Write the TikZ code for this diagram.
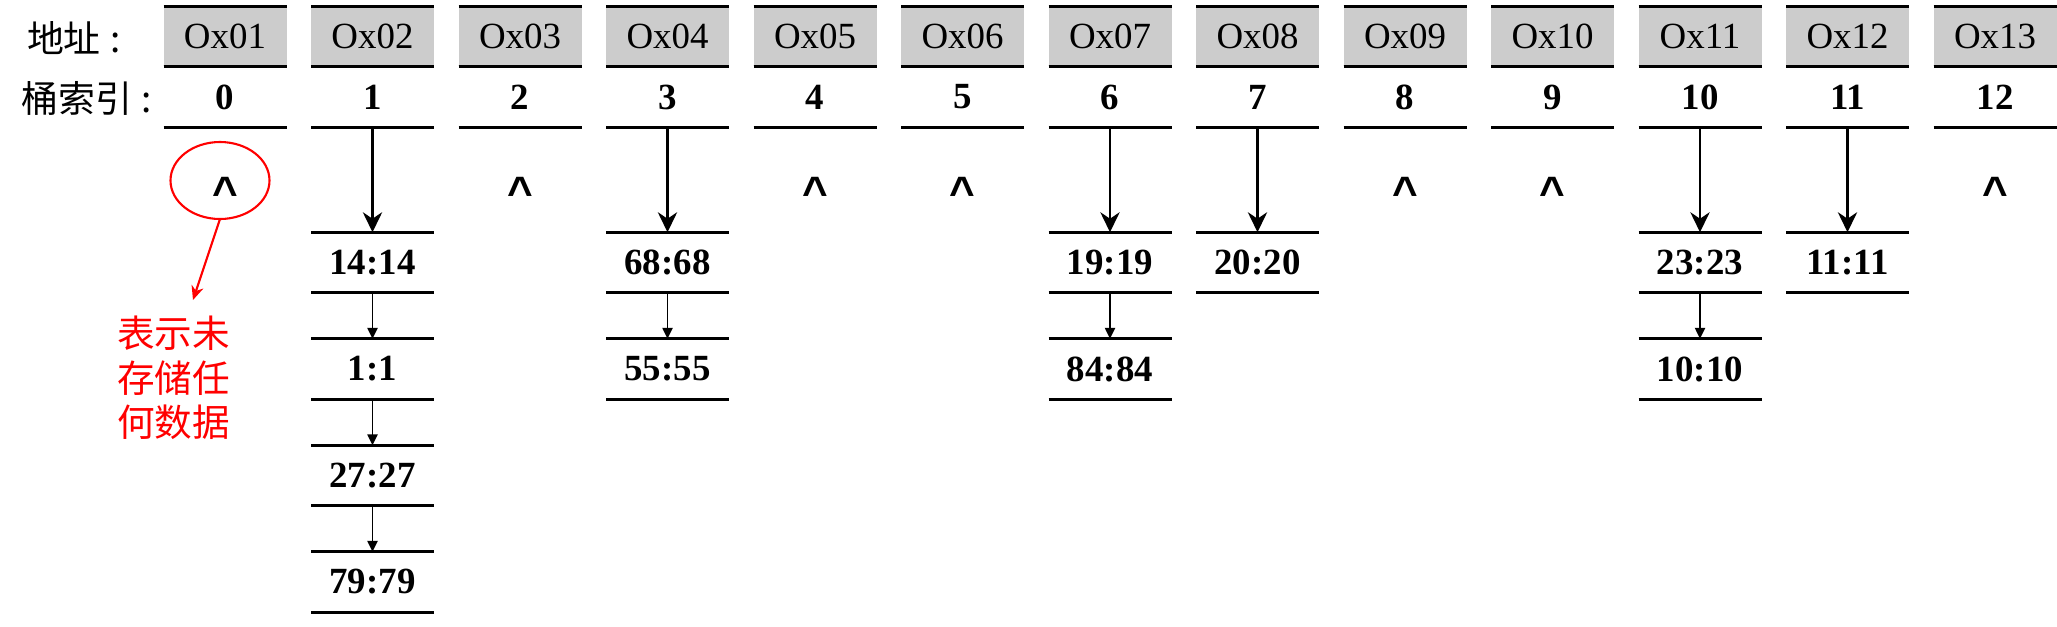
\documentclass[tikz,border=0pt]{standalone}
\usepackage{fontspec}
\setmainfont{Liberation Serif}
\newfontfamily\cjk{Noto Sans CJK SC}
\newfontfamily\capsans{Liberation Sans}
\usetikzlibrary{shapes.geometric,arrows.meta,positioning}
\definecolor{cellgrey}{RGB}{204,204,204}
\definecolor{notered}{RGB}{255,0,0}

\begin{document}
\begin{tikzpicture}[node distance=4.6mm and 0mm,
  every node/.style={inner sep=0pt,outer sep=0pt},
  rule/.style={line width=0.75pt,-},
  rec/.style={minimum width=12.3mm,minimum height=6.05mm,
    font=\fontsize{10.5}{12}\selectfont\bfseries,
    append after command={(\tikzlastnode.north west) edge[rule] (\tikzlastnode.north east)
      (\tikzlastnode.south west) edge[rule] (\tikzlastnode.south east)}},
  addr/.style={rec,fill=cellgrey,font=\fontsize{10.5}{12}\selectfont},
  nil/.style={font=\capsans\fontsize{12.5}{14}\selectfont\bfseries,anchor=base},
  lbl/.style={font=\cjk\fontsize{10.5}{12}\selectfont,anchor=west},
  ar/.style={-{Stealth[length=5.7pt,width=5.5pt]},line width=0.65pt},
  nx/.style={-{Triangle[length=3.1pt,width=2.9pt]},line width=0.45pt},
  redar/.style={-{Stealth[length=4pt,width=3.5pt]},draw=notered,line width=0.6pt}]
\useasboundingbox (0,0) rectangle (20.57,-6.26);
% header rows
\node[lbl] (hdaddr) at (0.27,-0.38) {地址\hspace{0.25em}:};
\node[lbl] (hdidx) at (0.22,-0.98) {桶索引\hspace{0.25em}:};
\foreach \i/\ad in {0/01,1/02,2/03,3/04,4/05,5/06,6/07,7/08,8/09,9/10,10/11,11/12,12/13} {
  \node[addr] (a\i) at (2.25+1.475*\i,-0.365) {Ox\ad};
  \node[rec,below=0mm of a\i] (b\i) {\i};
}
% empty buckets
\foreach \i in {0,2,4,5,8,9,12}
  \node[nil] (n\i) at (2.25+1.475*\i,-2.07) {\textasciicircum};
% chains
\node[rec,below=10.5mm of b1] (c1) {14:14};
\node[rec,below=of c1] (c1b) {1:1};
\node[rec,below=of c1b] (c1c) {27:27};
\node[rec,below=of c1c] (c1d) {79:79};
\node[rec,below=10.5mm of b3] (c3) {68:68};
\node[rec,below=of c3] (c3b) {55:55};
\node[rec,below=10.5mm of b6] (c6) {19:19};
\node[rec,below=of c6] (c6b) {84:84};
\node[rec,below=10.5mm of b7] (c7) {20:20};
\node[rec,below=10.5mm of b10] (c10) {23:23};
\node[rec,below=of c10] (c10b) {10:10};
\node[rec,below=10.5mm of b11] (c11) {11:11};
\draw[ar] (b1)--(c1); \draw[nx] (c1)--(c1b); \draw[nx] (c1b)--(c1c); \draw[nx] (c1c)--(c1d);
\draw[ar] (b3)--(c3); \draw[nx] (c3)--(c3b);
\draw[ar] (b6)--(c6); \draw[nx] (c6)--(c6b);
\draw[ar] (b7)--(c7);
\draw[ar] (b10)--(c10); \draw[nx] (c10)--(c10b);
\draw[ar] (b11)--(c11);
% remark on bucket 0
\node[ellipse,draw=notered,line width=0.6pt,minimum width=9.9mm,minimum height=7.7mm] (ring) at (2.20,-1.805) {};
\node[font=\cjk\fontsize{10.7}{12.7}\selectfont,text=notered,align=left,anchor=north west] (note) at (1.17,-3.16) {表示未\\存储任\\何数据};
\coordinate (tip) at (1.93,-3.0);
\draw[redar] (ring.south)--(tip);
\end{tikzpicture}
\end{document}
